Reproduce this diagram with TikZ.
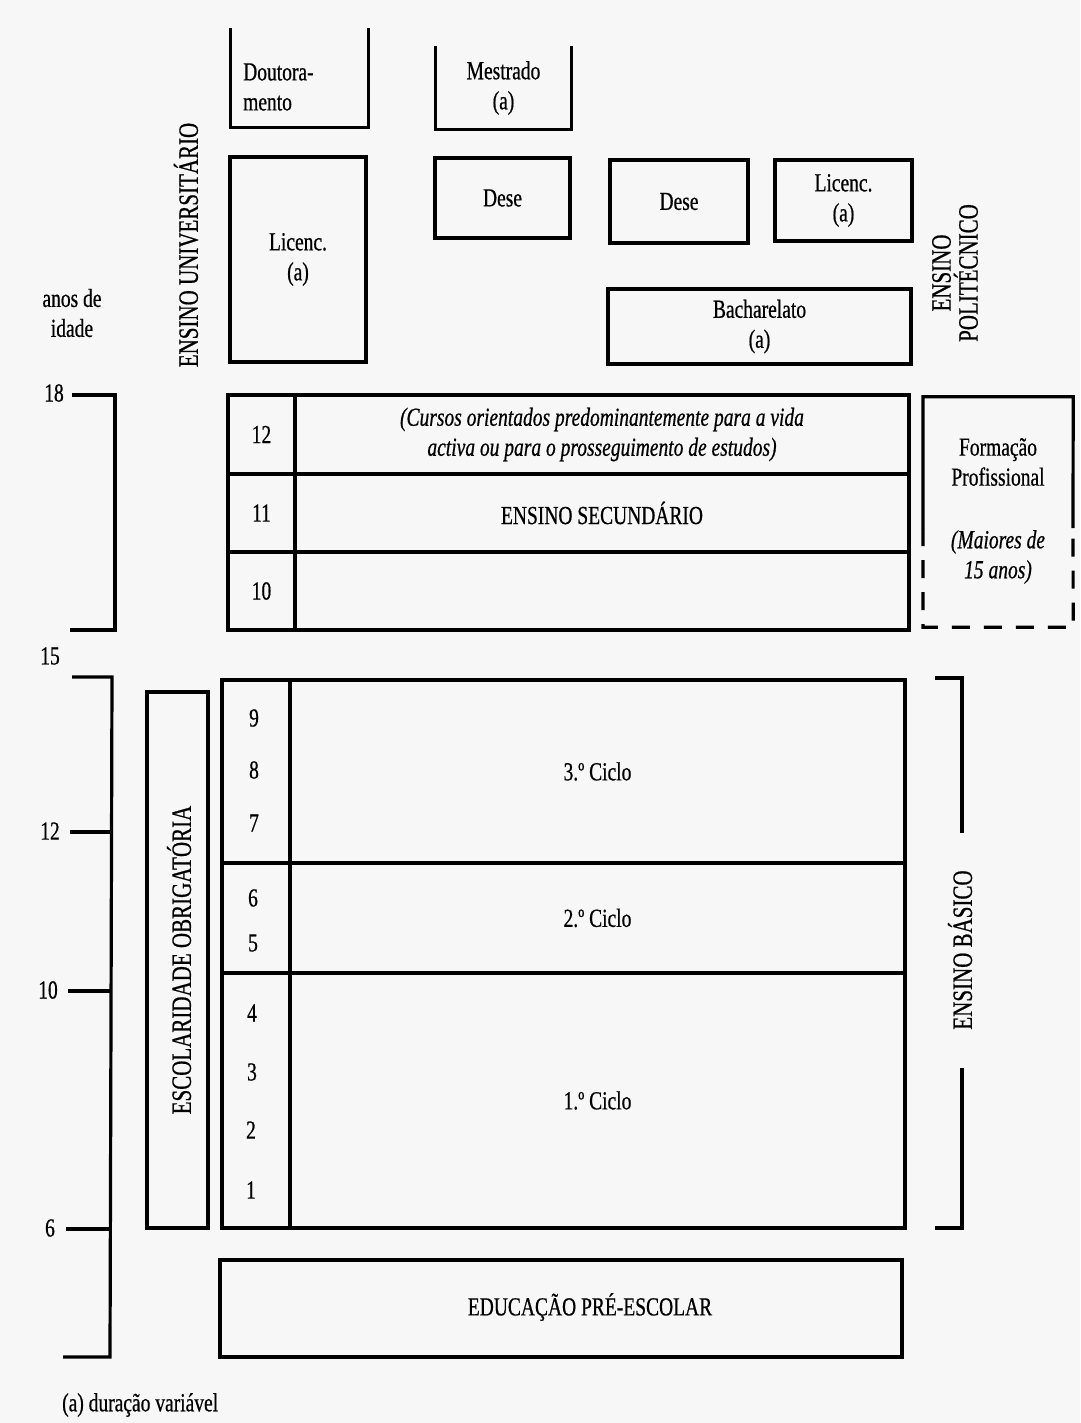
\documentclass[tikz,border=0pt]{standalone}
\usepackage{fontspec}
\setmainfont{Liberation Serif}[FakeStretch=0.75, FakeBold=0.6]
\begin{document}
\begin{tikzpicture}[x=1pt,y=-1pt,
  every node/.style={font=\fontsize{26}{30}\selectfont, inner sep=0pt, align=center},
  ln/.style={line width=3.2pt},
  bx/.style n args={2}{draw, line width=3.2pt, minimum width=#1pt, minimum height=#2pt},
  vlab/.style={rotate=90, font=\fontsize{28}{30}\selectfont},
  dsh/.style={line width=3.2pt, dash pattern=on 18pt off 14pt}]
\useasboundingbox (0,0) rectangle (1080,1423);
\fill[black!3] (0,0) rectangle (1080,1423);

% --- higher education ---
\node[bx={135}{96}, draw=none] (dout) at (299.5,78) {};
\draw[ln] (dout.north west) -- (dout.south west) -- (dout.south east) -- (dout.north east);
\node[anchor=west, align=left] (douttxt) at (243,87) {Doutora-\\mento};
\node[bx={133}{80}, draw=none] (mest) at (503.5,88) {Mestrado\\(a)};
\draw[ln] (mest.north west) -- (mest.south west) -- (mest.south east) -- (mest.north east);
\node[bx={136}{205}] (licl) at (298,259.5) {Licenc.\\(a)};
\node[bx={135}{80}] (dese1) at (502.5,198) {Dese};
\node[bx={138}{83}] (dese2) at (679,201.5) {Dese};
\node[bx={137}{81}] (licr) at (843.5,200.5) {Licenc.\\(a)};
\node[bx={303}{75}] (bach) at (759.5,326.5) {Bacharelato\\(a)};
\node[vlab] (univ) at (186,245) {ENSINO UNIVERSITÁRIO};
\node[vlab, font=\fontsize{28}{27}\selectfont] (poli) at (955,273) {ENSINO\\POLITÉCNICO};
\node (anos) at (72,313) {anos de\\idade};

% --- secondary ---
\node[bx={67}{79}] (s12n) at (261.5,434.5) {12};
\node[bx={614}{79}] (s12) at (602,434.5) {\itshape (Cursos orientados predominantemente para a vida\\\itshape activa ou para o prosseguimento de estudos)};
\node[bx={67}{78}] (s11n) at (261.5,513) {11};
\node[bx={614}{78}] (s11) at (602,513) {ENSINO SECUNDÁRIO};
\node[bx={67}{78}] (s10n) at (261.5,591) {10};
\node[bx={614}{78}] (s10) at (602,591) {};

% --- formação profissional ---
\node[minimum width=150pt, minimum height=230pt] (fp) at (998,512) {};
\coordinate (fpl) at (923,528);
\coordinate (fpr) at (1073,528);
\draw[ln] (fpl) |- (fp.north east) -- (fpr);
\draw[dsh] (fpl) |- (fp.south east) -- (fpr);
\node (fptxt) at (998,462) {Formação\\Profissional};
\node[font=\fontsize{26}{30}\selectfont\itshape] (fpmai) at (998,557) {(Maiores de\\15 anos)};

% --- age scale ---
\draw[ln] (72,395) -- (115,395) -- (115,630) -- (70,630);
\node (a18) at (54,393) {18};
\node (a15) at (50,656) {15};
\draw[ln] (72,677) -- (112,677) -- (110,1357) -- (63,1357);
\draw[ln] (70,832) -- (112,832);
\draw[ln] (68,991) -- (111,991);
\draw[ln] (66,1229) -- (110,1229);
\node (a12) at (50,831) {12};
\node (a10) at (48,990) {10};
\node (a6) at (50,1228) {6};

% --- escolaridade obrigatória ---
\node[bx={61}{536}] (esc) at (177.5,960) {};
\node[vlab] (esctxt) at (179,960) {ESCOLARIDADE OBRIGATÓRIA};

% --- ensino básico ---
\node[bx={68}{183}] (b3n) at (256,771.5) {};
\node[bx={615}{183}] (b3) at (597.5,771.5) {3.º Ciclo};
\node[bx={68}{110}] (b2n) at (256,918) {};
\node[bx={615}{110}] (b2) at (597.5,918) {2.º Ciclo};
\node[bx={68}{255}] (b1n) at (256,1100.5) {};
\node[bx={615}{255}] (b1) at (597.5,1100.5) {1.º Ciclo};
\node (n9) at (254,718) {9};
\node (n8) at (254,770) {8};
\node (n7) at (254,823) {7};
\node (n6) at (253,898) {6};
\node (n5) at (253,943) {5};
\node (n4) at (252,1013) {4};
\node (n3) at (252,1072) {3};
\node (n2) at (251,1130) {2};
\node (n1) at (251,1190) {1};

\draw[ln] (935,678) -- (962,678) -- (962,833);
\draw[ln] (962,1068) -- (962,1228) -- (935,1228);
\node[vlab] (basico) at (960,950) {ENSINO BÁSICO};

% --- pré-escolar ---
\node[bx={682}{97}] (pre) at (561,1308.5) {};
\node (pretxt) at (590,1307) {EDUCAÇÃO PRÉ-ESCOLAR};

\node[anchor=west] (nota) at (62,1405) {(a) duração variável};
\end{tikzpicture}
\end{document}
